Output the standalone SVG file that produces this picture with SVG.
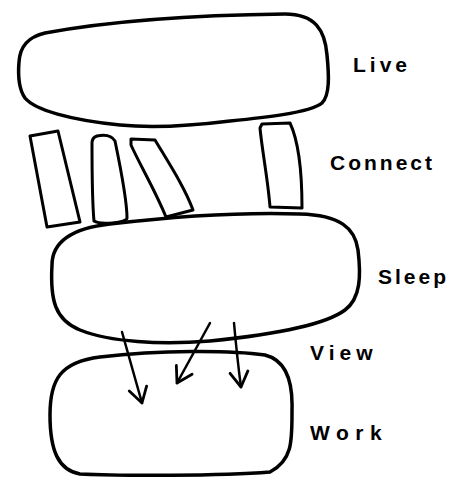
<svg xmlns="http://www.w3.org/2000/svg" width="468" height="477" viewBox="0 0 468 477">
<style>
.blob{fill:none;stroke:#000;stroke-width:3.5;stroke-linejoin:round;stroke-linecap:round}
.rect{fill:none;stroke:#000;stroke-width:3;stroke-linejoin:round}
.arr{fill:none;stroke:#000;stroke-width:2.5;stroke-linecap:round}
.lbl{font-family:"Liberation Sans",Arial,sans-serif;font-size:21px;font-weight:bold;fill:#000}
</style>
<defs>
<marker id="v" viewBox="-18 -12 20 24" markerWidth="20" markerHeight="24" refX="0" refY="0" orient="auto" markerUnits="userSpaceOnUse" overflow="visible">
<path d="M-15,-9 L0,0 L-15,9" fill="none" stroke="#000" stroke-width="2.8" stroke-linecap="round" stroke-linejoin="round"/>
</marker>
</defs>
<rect width="468" height="477" fill="#fff"/>
<g id="live">
<path class="blob" d="M19,62 C20,46 28,37 45,33 C110,21 200,15 285,14 C315,14 325,30 327,55 C329,75 330,95 322,103 C310,113 260,118 230,121 C190,126 150,128 120,125 C70,120 35,110 25,98 C18,88 18,74 19,62 Z"/>
<text class="lbl" x="353" y="72" font-size="22" letter-spacing="4">Live</text>
</g>
<g id="connect">
<path class="rect" d="M30,136 L58,131 L80,222 L47,227 Z"/>
<path class="rect" d="M97,136 C106,134 112,136 115,141 C120,165 127,200 127,218 C127,223 100,225 94,221 C92,200 92,160 92,143 C92,139 94,137 97,136 Z"/>
<path class="rect" d="M131,139 L155,140 C170,165 185,188 193,210 L166,217 C155,190 140,165 131,145 Z"/>
<path class="rect" d="M262,124 L290,123 C298,140 302,170 302,208 L270,207 C268,180 262,150 260,128 Z"/>
<text class="lbl" x="330" y="170" letter-spacing="3">Connect</text>
</g>
<g id="sleep">
<path class="blob" d="M52,265 C52,240 75,228 110,224 C170,217 240,212 300,214 C340,215 355,228 358,250 C361,275 361,298 345,310 C325,325 270,335 210,341 C160,345 110,342 80,330 C55,320 50,300 52,265 Z"/>
<text class="lbl" x="378" y="284" font-size="25" letter-spacing="3">Sleep</text>
</g>
<g id="work">
<path class="blob" d="M50,415 C50,380 60,362 100,357 C160,350 230,350 265,355 C285,360 293,380 292,410 C292,440 293,460 270,472 C220,476 120,476 80,474 C58,470 50,450 50,415 Z"/>
<text class="lbl" x="310" y="440" letter-spacing="6.5">Work</text>
</g>
<g id="connectors">
<path class="arr" d="M122,332 L142,403" marker-end="url(#v)"/>
<path class="arr" d="M210,323 L177,383" marker-end="url(#v)"/>
<path class="arr" d="M234,323 C236,345 238,365 241,387" marker-end="url(#v)"/>
<text class="lbl" x="310" y="360" font-size="20" letter-spacing="5">View</text>
</g>
</svg>
